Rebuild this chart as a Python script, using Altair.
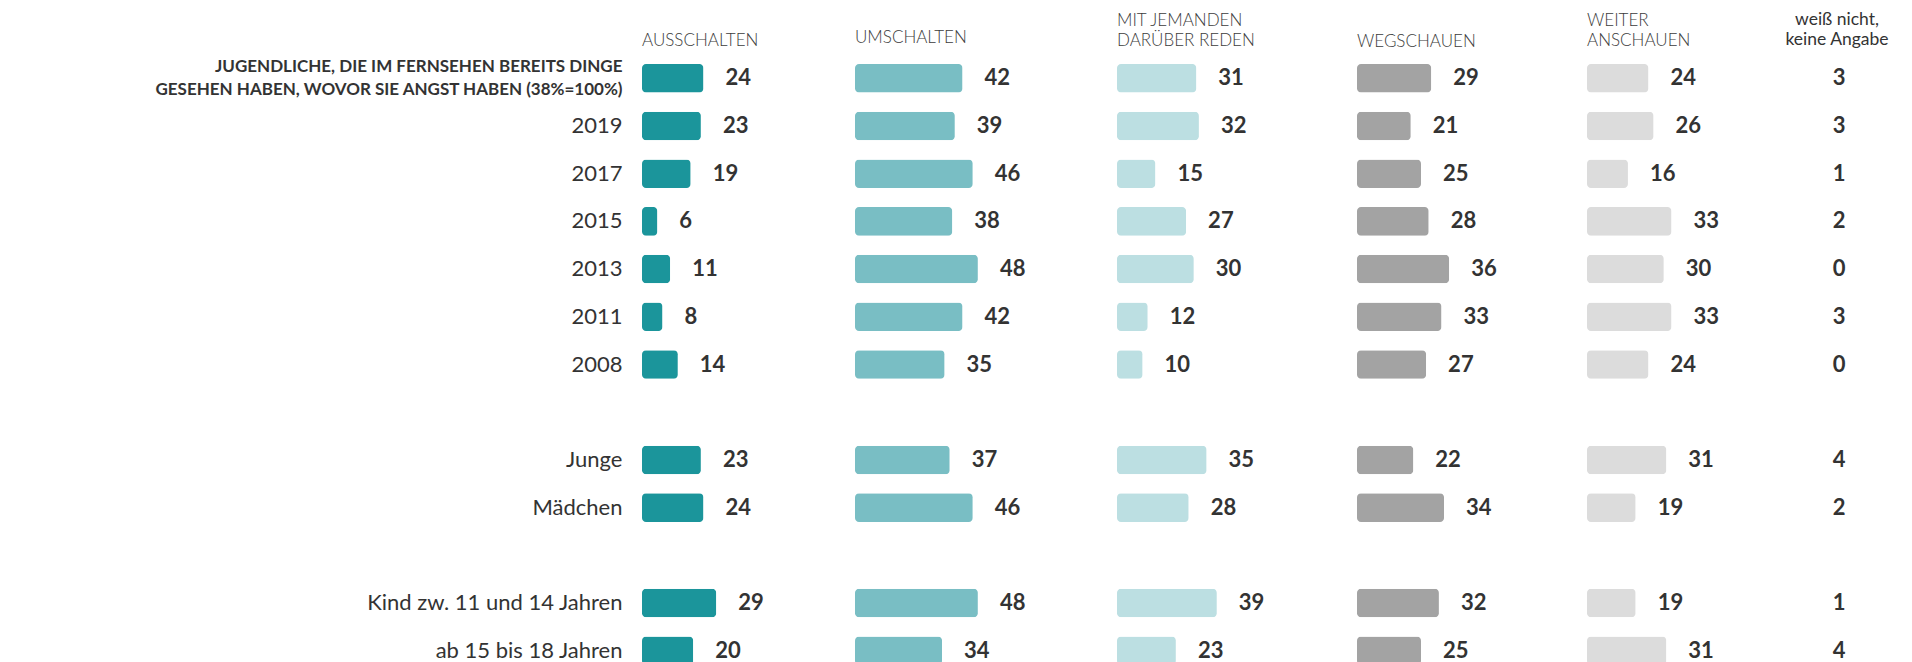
import altair as alt
import pandas as pd

# ---------------- data ----------------
row_keys = ["gesamt", "2019", "2017", "2015", "2013", "2011", "2008",
            "Junge", "Mädchen", "Kind zw. 11 und 14 Jahren", "ab 15 bis 18 Jahren"]
title_line1 = "JUGENDLICHE, DIE IM FERNSEHEN BEREITS DINGE"
title_line2 = "GESEHEN HABEN, WOVOR SIE ANGST HABEN (38%=100%)"

ausschalten = [24, 23, 19, 6, 11, 8, 14, 23, 24, 29, 20]
umschalten = [42, 39, 46, 38, 48, 42, 35, 37, 46, 48, 34]
mit_jemanden = [31, 32, 15, 27, 30, 12, 10, 35, 28, 39, 23]
wegschauen = [29, 21, 25, 28, 36, 33, 27, 22, 34, 32, 25]
weiter = [24, 26, 16, 33, 30, 33, 24, 31, 19, 19, 31]
weiss_nicht = [3, 3, 1, 2, 0, 3, 0, 4, 2, 1, 4]

columns = ["AUSSCHALTEN", "UMSCHALTEN", "MIT JEMANDEN DARÜBER REDEN",
           "WEGSCHAUEN", "WEITER ANSCHAUEN", "weiß nicht, keine Angabe"]
headers = [["AUSSCHALTEN"], ["UMSCHALTEN"], ["MIT JEMANDEN", "DARÜBER REDEN"],
           ["WEGSCHAUEN"], ["WEITER", "ANSCHAUEN"], ["weiß nicht,", "keine Angabe"]]
colors = ["#1b959b", "#79bec4", "#bcdfe2", "#a3a3a3", "#dcdcdc"]

series = [ausschalten, umschalten, mit_jemanden, wegschauen, weiter, weiss_nicht]
records = []
for col, vals in zip(columns, series):
    for r, v in zip(row_keys, vals):
        records.append({"col": col, "row": r, "value": v})
df = pd.DataFrame(records)

# row slots incl. empty gaps between the groups
row_domain = row_keys[:7] + ["gap1"] + row_keys[7:9] + ["gap2"] + row_keys[9:]

# ---------------- layout ----------------
PX = 2.56            # pixels per percentage point
H = 601              # plot height
widths = [213, 262, 240, 230, 185, 130]
title_offsets = [-9.8, 0, -2.5, -4.3, -2.5, -2.5]
TXT = "#333333"
FONT = "Lato"

label_expr = (
    "datum.value == 'gesamt' ? ['" + title_line1 + "', '" + title_line2 + "'] : "
    "(indexof(datum.value, 'gap') == 0 ? '' : datum.value)"
)
is_title = "datum.value == 'gesamt'"

y_axis = alt.Axis(
    title=None, domain=False, ticks=False, labelPadding=20,
    labelFont=FONT, labelColor=TXT, labelAlign="right", labelBaseline="middle",
    labelFontSize={"condition": {"test": is_title, "value": 17}, "value": 22},
    labelFontWeight={"condition": {"test": is_title, "value": 700}, "value": 400},
    labelOffset={"condition": {"test": is_title, "value": -11.5}, "value": 0},
    labelLineHeight=23, labelLimit=0, labelExpr=label_expr,
    minExtent=634, maxExtent=634,
)


def y_enc(with_axis):
    return alt.Y(
        "row:N",
        scale=alt.Scale(type="band", domain=row_domain, paddingInner=0.4025, paddingOuter=0),
        axis=y_axis if with_axis else None,
        sort=row_domain,
    )


panels = []
for i, col in enumerate(columns):
    w = widths[i]
    center = i == 5
    title = alt.TitleParams(
        text=headers[i],
        anchor="middle" if center else "start",
        frame="group",
        font=FONT,
        fontSize=17.5 if center else 17,
        fontWeight=400 if center else 300,
        color=TXT if center else "#3c3c3c",
        lineHeight=20,
        baseline="bottom",
        offset=title_offsets[i],
    )
    base = alt.Chart(df).transform_filter(alt.datum.col == col)
    if not center:
        x = alt.X("value:Q", scale=alt.Scale(domain=[0, w / PX], nice=False, zero=True), axis=None)
        bars = base.mark_bar(color=colors[i], cornerRadius=4).encode(x=x, y=y_enc(i == 0))
        labels = base.mark_text(
            align="left", baseline="middle", dx=22, font=FONT, fontSize=22,
            fontWeight="bold", color=TXT,
        ).encode(x=x, y=y_enc(i == 0), text="value:Q")
        p = alt.layer(bars, labels)
    else:
        p = base.mark_text(
            align="center", baseline="middle", dx=2, font=FONT, fontSize=22,
            fontWeight="bold", color=TXT,
        ).encode(y=y_enc(False), text="value:Q")
    panels.append(p.properties(width=w, height=H, title=title))

chart = alt.hconcat(*panels, spacing=0).properties(
    padding={"left": 0, "top": 3, "right": 0, "bottom": 0},
    background="white",
).configure_view(stroke=None)

chart.save("out.html", embed_options={"renderer": "svg", "actions": False})
